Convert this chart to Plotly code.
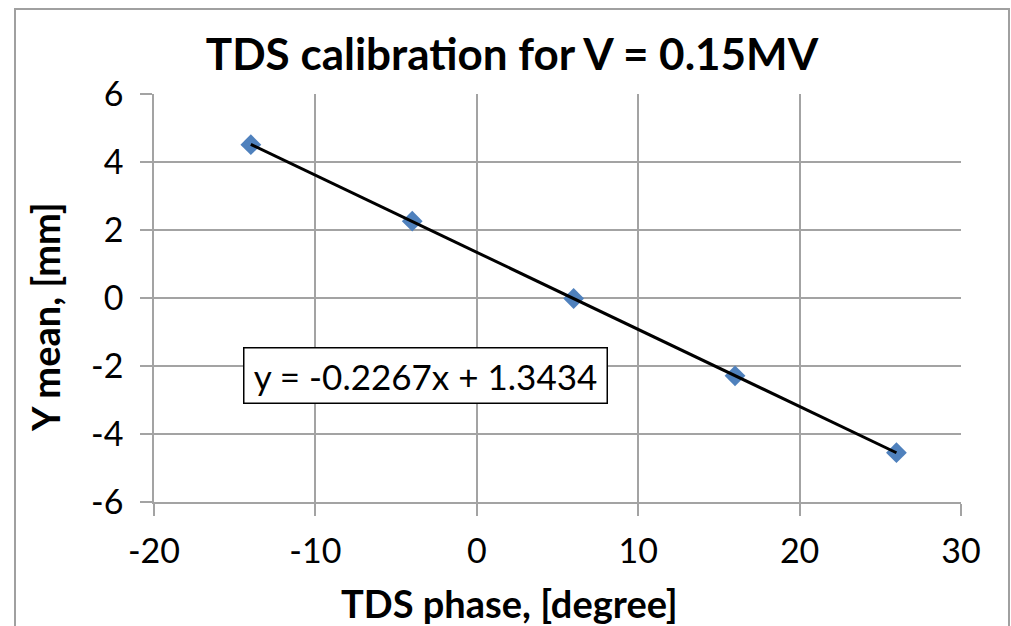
import numpy as np
import plotly.graph_objects as go

# Data
phase_deg = [-14, -4, 6, 16, 26]
y_mean_mm = [4.51, 2.26, -0.014, -2.29, -4.55]
x_ticks = [-20, -10, 0, 10, 20, 30]
x_tick_labels = ["-20", "-10", "0", "10", "20", "30"]
y_ticks = [-6, -4, -2, 0, 2, 4, 6]
y_tick_labels = ["-6", "-4", "-2", "0", "2", "4", "6"]
title_text = "TDS calibration for V = 0.15MV"
x_title = "TDS phase, [degree]"
y_title = "Y mean, [mm]"

slope, intercept = np.polyfit(phase_deg, y_mean_mm, 1)
trend_x = [min(phase_deg), max(phase_deg)]
trend_y = [slope * v + intercept for v in trend_x]
eq_text = f"y = {slope:.4f}x + {intercept:.4f}"

FONT = "Lato"
GRID = "#a3a3a3"

fig = go.Figure()
fig.add_trace(go.Scatter(
    x=phase_deg, y=y_mean_mm, mode="markers",
    marker=dict(symbol="diamond", size=16, color="#4f81bd"),
    showlegend=False,
))
fig.add_trace(go.Scatter(
    x=trend_x, y=trend_y, mode="lines",
    line=dict(color="black", width=3),
    showlegend=False,
))

L, R, T, B = 154, 50, 94, 124
W, H = 1011, 626
pw, ph = W - L - R, H - T - B

def px_x(px):
    return (px - L) / pw

def px_y(py):
    return (H - B - py) / ph

axis_common = dict(showgrid=True, gridcolor=GRID, gridwidth=1.5,
                   showline=True, linecolor=GRID, linewidth=1.5, ticks="outside", ticklen=12,
                   tickcolor=GRID, tickwidth=1.5, zeroline=False,
                   tickfont=dict(size=34, family=FONT, color="black"),
                   automargin=False, fixedrange=True)

fig.update_layout(
    width=W, height=H,
    margin=dict(l=L, r=R, t=T, b=B, autoexpand=False),
    paper_bgcolor="white", plot_bgcolor="white",
    font=dict(family=FONT, color="black"),
    title=dict(text=f"<b>{title_text}</b>", x=512 / W, xref="container", xanchor="center",
               y=1 - 55 / H, yref="container", yanchor="middle",
               font=dict(size=44, family=FONT, color="black")),
    xaxis=dict(range=[-20, 30], tickvals=x_ticks, ticktext=x_tick_labels,
               ticklabelstandoff=6, **axis_common),
    yaxis=dict(range=[-6, 6], tickvals=y_ticks, ticktext=y_tick_labels,
               ticklabelstandoff=10, **axis_common),
    shapes=[dict(type="path", xref="paper", yref="paper",
                 path=f"M {px_x(15)},{px_y(640)} L {px_x(15)},{px_y(9)} L {px_x(1009)},{px_y(9)} L {px_x(1009)},{px_y(640)}",
                 line=dict(color="#a0a0a0", width=2), layer="below")],
    annotations=[
        dict(text=eq_text, xref="paper", yref="paper", x=px_x(425), y=px_y(375),
             xanchor="center", yanchor="middle", showarrow=False,
             font=dict(size=35, family=FONT, color="black"),
             bgcolor="white", bordercolor="black", borderwidth=1.5, borderpad=1,
             width=360, height=52),
        dict(text=f"<b>{x_title}</b>", xref="paper", yref="paper", x=px_x(509), y=px_y(603),
             xanchor="center", yanchor="middle", showarrow=False,
             font=dict(size=38, family=FONT, color="black")),
        dict(text=f"<b>{y_title}</b>", xref="paper", yref="paper", x=px_x(45), y=px_y(317),
             xanchor="center", yanchor="middle", showarrow=False, textangle=-90,
             font=dict(size=38, family=FONT, color="black")),
    ],
)

fig.write_html("out.html")
